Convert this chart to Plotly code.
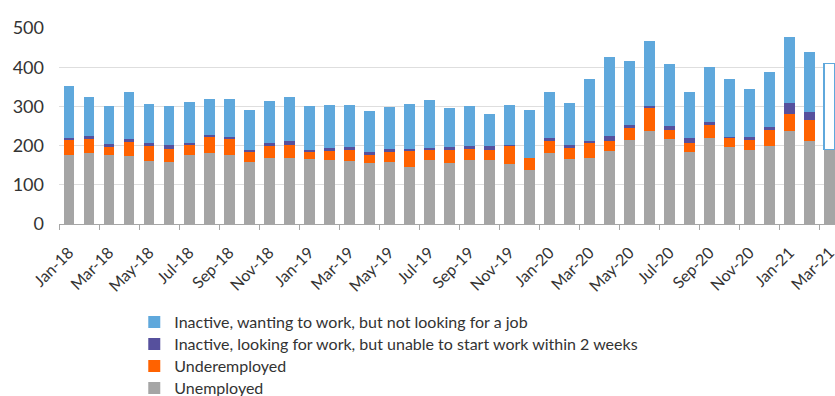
import pandas as pd
import plotly.graph_objects as go

months = pd.date_range("2018-01-01", "2021-03-01", freq="MS").strftime("%b-%y").tolist()

unemployed = [176, 182, 176, 173, 161, 158, 176, 182, 176, 158, 168, 168,
              166, 163, 161, 156, 158, 146, 163, 156, 163, 163, 153, 139,
              181, 166, 168, 186, 214, 238, 217, 184, 220, 196, 189, 199,
              236, 212, 190]
underemployed = [39, 36, 20, 35, 38, 33, 26, 40, 42, 26, 31, 34,
                 20, 23, 28, 21, 28, 40, 26, 33, 30, 26, 47, 29,
                 31, 28, 39, 26, 31, 57, 24, 23, 35, 25, 26, 42,
                 45, 53, 0]
inactive_looking = [4, 6, 8, 9, 8, 10, 5, 4, 5, 5, 8, 10,
                    4, 7, 7, 6, 5, 6, 4, 7, 5, 11, 1, 0,
                    7, 7, 5, 12, 7, 6, 8, 12, 4, 1, 6, 6,
                    27, 20, 0]
inactive_wanting = [130, 99, 95, 118, 97, 97, 102, 90, 93, 101, 104, 109,
                    109, 109, 106, 104, 106, 112, 122, 97, 101, 78, 101, 122,
                    116, 105, 155, 200, 163, 163, 157, 116, 139, 145, 121, 140,
                    168, 153, 0]
# last month: outlined (not yet split) block
pending = [0] * 38 + [219]

series = [
    ("Unemployed", unemployed, "#a5a5a5", "legend4"),
    ("Underemployed", underemployed, "#ff6200", "legend3"),
    ("Inactive, looking for work, but unable to start work within 2 weeks", inactive_looking, "#56509d", "legend2"),
    ("Inactive, wanting to work, but not looking for a job", inactive_wanting, "#5fa8dc", "legend"),
]

fig = go.Figure()
for name, vals, col, lg in series:
    fig.add_trace(go.Bar(x=months, y=vals, name=name, legend=lg,
                         marker=dict(color=col, line=dict(width=0))))
fig.add_trace(go.Bar(x=months, y=pending, showlegend=False,
                     marker=dict(color="white", line=dict(color="#5fa8dc", width=1.5))))

font_family = "Lato"
leg_common = dict(x=0.097, xanchor="left", yanchor="middle",
                  font=dict(size=16, color="#333333"),
                  bgcolor="rgba(0,0,0,0)", itemclick=False, borderwidth=0)
row_px = [322, 344, 366, 388]
plot_bottom, plot_h = 224, 196

fig.update_layout(
    width=835, height=396,
    margin=dict(l=59, r=0, t=28, b=172, autoexpand=False),
    barmode="stack", bargap=0.46,
    plot_bgcolor="white", paper_bgcolor="white",
    font=dict(family=font_family, color="#333333", size=16),
    legend=dict(y=(plot_bottom - row_px[0]) / plot_h, **leg_common),
    legend2=dict(y=(plot_bottom - row_px[1]) / plot_h, **leg_common),
    legend3=dict(y=(plot_bottom - row_px[2]) / plot_h, **leg_common),
    legend4=dict(y=(plot_bottom - row_px[3]) / plot_h, **leg_common),
    xaxis=dict(type="category", range=[-0.5, 38.27], tickmode="linear", tick0=0, dtick=2,
               tickson="boundaries", ticks="outside", ticklen=5, tickcolor="#a6a6a6",
               showline=True, linecolor="#a6a6a6", linewidth=1, showgrid=False,
               automargin=False, ticklabelstandoff=12, ticklabelshift=0,
               tickangle=-45, tickfont=dict(size=16, color="#333333")),
    yaxis=dict(range=[0, 500], tickvals=[0, 100, 200, 300, 400, 500], showgrid=True,
               gridcolor="#dedede", gridwidth=1, zeroline=False, showline=False,
               automargin=False,
               ticklabelstandoff=14, tickfont=dict(size=18, color="#333333")),
)

fig.write_html("out.html")
